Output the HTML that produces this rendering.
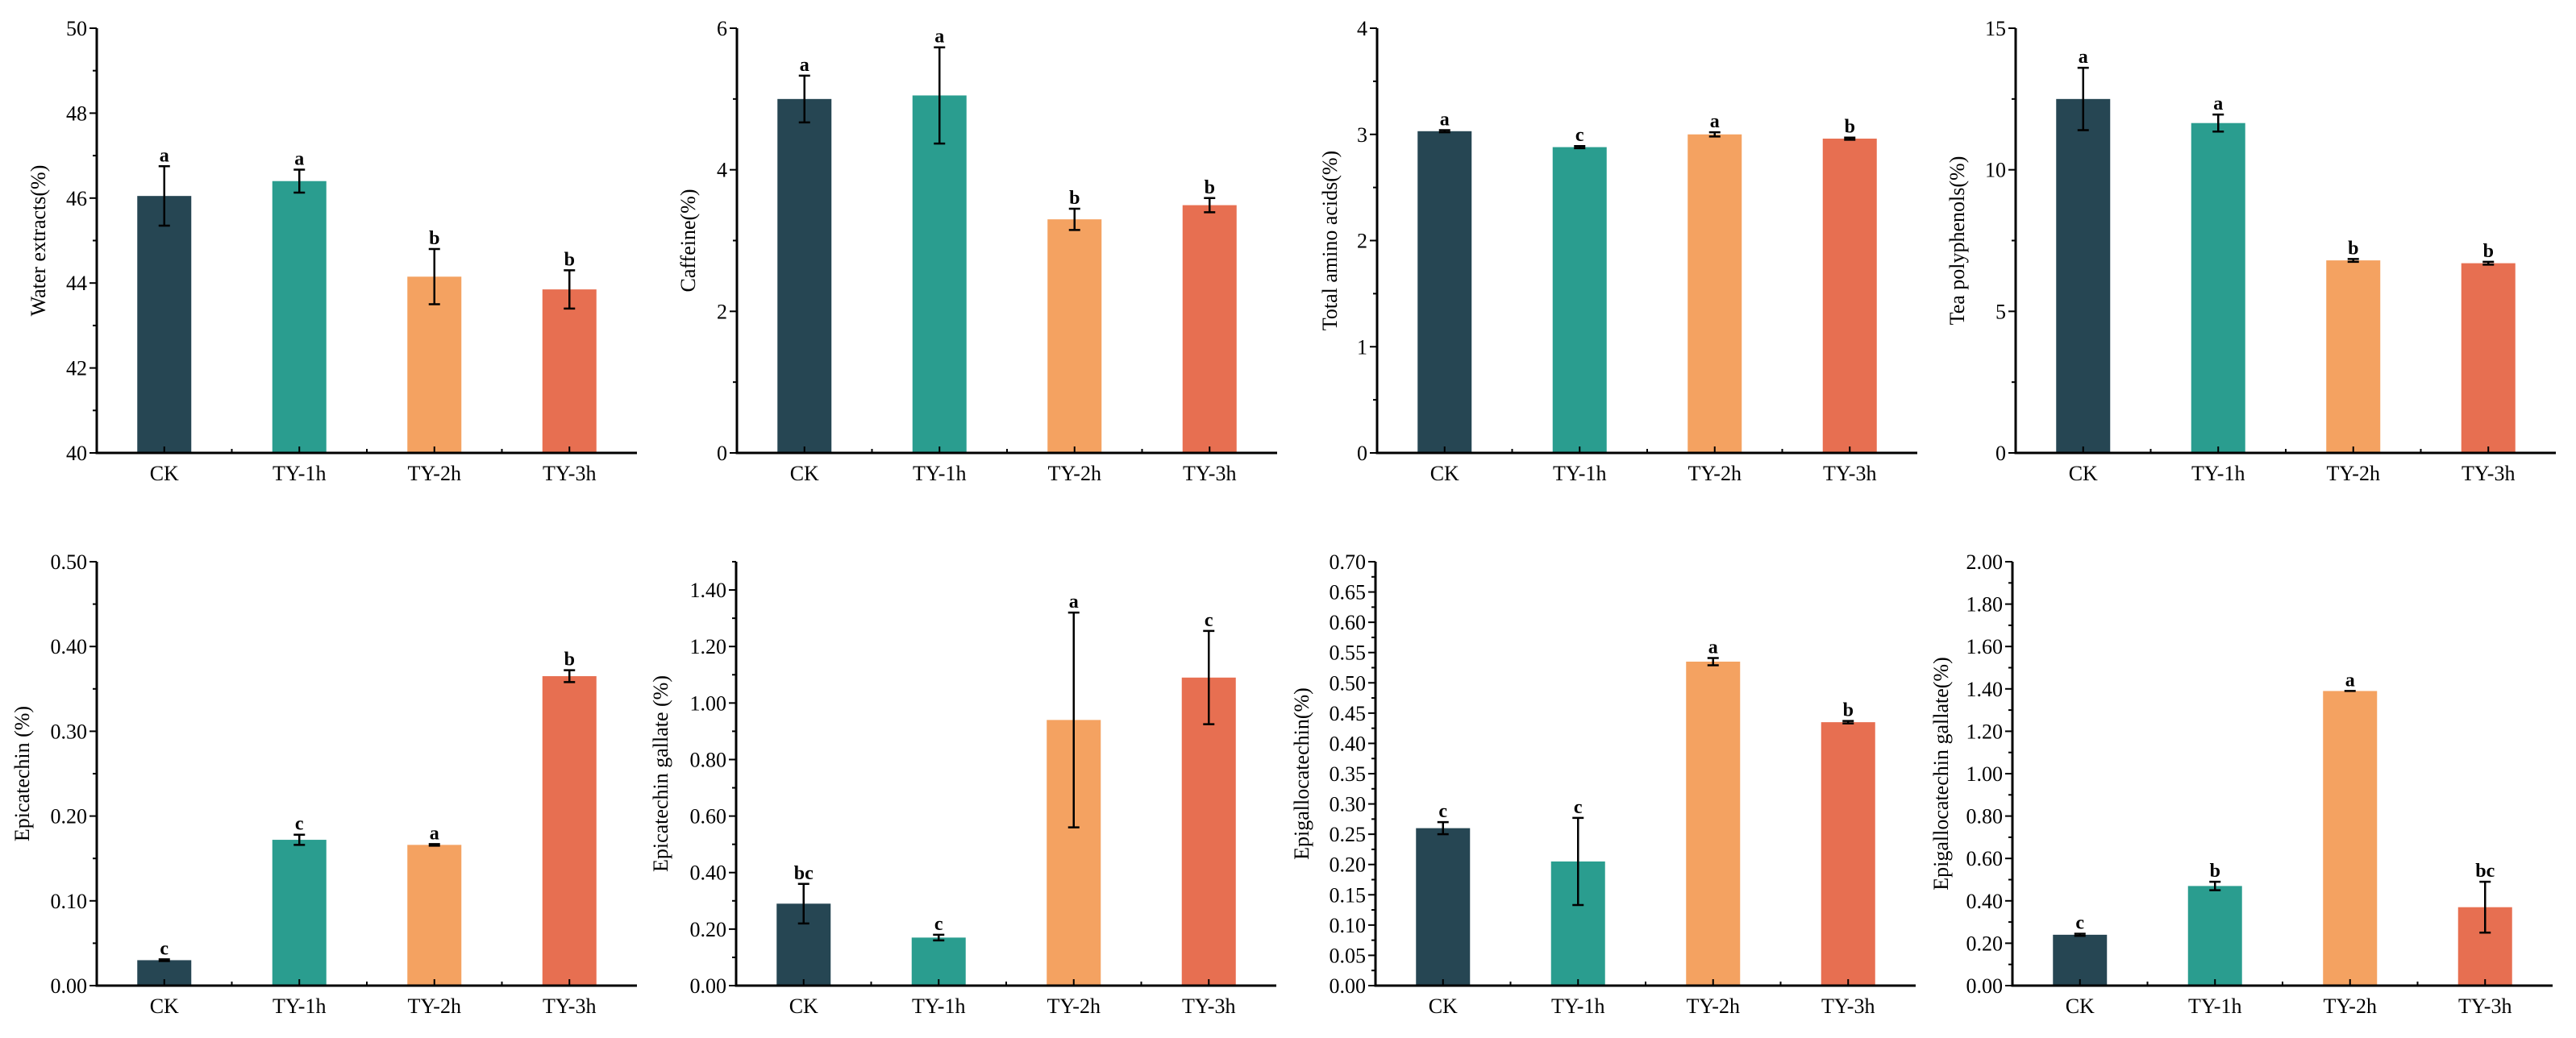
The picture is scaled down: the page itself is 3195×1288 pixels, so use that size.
<!DOCTYPE html>
<html><head><meta charset="utf-8"><style>
html,body{margin:0;padding:0;background:#fff;}
svg{display:block;font-family:"Liberation Serif",serif;}
</style></head><body>
<svg id="chart" width="3195" height="1288" viewBox="0 0 3195 1288"></svg>
<script>
const categories = ["CK","TY-1h","TY-2h","TY-3h"];
const colors = ["#264653","#2a9d8f","#f4a261","#e76f51"];
// panel data
const waterVals = [46.05,46.4,44.15,43.85];
const waterErr = [0.7,0.27,0.65,0.45];
const waterLetters = ["a","a","b","b"];
const cafVals = [5.0,5.05,3.3,3.5];
const cafErr = [0.33,0.68,0.15,0.1];
const cafLetters = ["a","a","b","b"];
const aminoVals = [3.03,2.88,3.0,2.96];
const aminoErr = [0.01,0.01,0.02,0.01];
const aminoLetters = ["a","c","a","b"];
const polyVals = [12.5,11.65,6.8,6.7];
const polyErr = [1.1,0.3,0.05,0.05];
const polyLetters = ["a","a","b","b"];
const ecVals = [0.03,0.172,0.166,0.365];
const ecErr = [0.001,0.006,0.001,0.007];
const ecLetters = ["c","c","a","b"];
const ecgVals = [0.29,0.17,0.94,1.09];
const ecgErr = [0.07,0.01,0.38,0.165];
const ecgLetters = ["bc","c","a","c"];
const egcVals = [0.26,0.205,0.535,0.435];
const egcErr = [0.01,0.072,0.006,0.002];
const egcLetters = ["c","c","a","b"];
const egcgVals = [0.24,0.47,1.39,0.37];
const egcgErr = [0.005,0.02,0.0,0.12];
const egcgLetters = ["c","b","a","bc"];
const titles = ["Water extracts(%)","Caffeine(%)","Total amino acids(%)","Tea polyphenols(%)","Epicatechin (%)","Epicatechin gallate (%)","Epigallocatechin(%)","Epigallocatechin gallate(%)"];
const yMins = [40,0,0,0,0,0,0,0];
const yMaxs = [50,6,4,15,0.5,1.5,0.7,2.0];
const majorSteps = [2,2,1,5,0.1,0.2,0.05,0.2];
const tickMaxs = [50,6,4,15,0.5,1.4,0.7,2.0];
const decimals = [0,0,0,0,2,2,2,2];

const panels = [
 {v:waterVals,e:waterErr,l:waterLetters,x:120,top:35,bot:562,tx:50},
 {v:cafVals,e:cafErr,l:cafLetters,x:914,top:35,bot:562,tx:856},
 {v:aminoVals,e:aminoErr,l:aminoLetters,x:1708,top:35,bot:562,tx:1652},
 {v:polyVals,e:polyErr,l:polyLetters,x:2500,top:35,bot:562,tx:2430},
 {v:ecVals,e:ecErr,l:ecLetters,x:120,top:697,bot:1223,tx:30},
 {v:ecgVals,e:ecgErr,l:ecgLetters,x:913,top:697,bot:1223,tx:822},
 {v:egcVals,e:egcErr,l:egcLetters,x:1706,top:697,bot:1223,tx:1617},
 {v:egcgVals,e:egcgErr,l:egcgLetters,x:2496,top:697,bot:1223,tx:2410}
];
const NS="http://www.w3.org/2000/svg";
const svg=document.getElementById('chart');
function mk(tag,attrs,parent){const el=document.createElementNS(NS,tag);for(const k in attrs)el.setAttribute(k,attrs[k]);(parent||svg).appendChild(el);return el;}
const W=670;
panels.forEach((p,pi)=>{
  const g=mk('g',{});
  
  
  const y0=yMins[pi],y1=yMaxs[pi];
  const ys=v=>p.bot-(v-y0)/(y1-y0)*(p.bot-p.top);
  const xs=i=>p.x+(i+0.5)*W/categories.length;
  // bars
  p.v.forEach((v,i)=>{
    const r=mk('rect',{x:xs(i)-33.5,y:ys(v),width:67,height:p.bot-ys(v),fill:colors[i]},g);
    
    
    const e=p.e[i];
    const eb=mk('path',{d:`M${xs(i)},${ys(v+e)}V${ys(v-e)}M${xs(i)-7},${ys(v+e)}H${xs(i)+7}M${xs(i)-7},${ys(v-e)}H${xs(i)+7}`,stroke:'#000','stroke-width':2.5,fill:'none'},g);
    
    
    const t=mk('text',{x:xs(i),y:ys(v+e)-6,'text-anchor':'middle','font-size':24,'font-weight':'bold'},g);
    t.textContent=p.l[i];
    
    
    const xl=mk('text',{x:xs(i),y:p.bot+34,'text-anchor':'middle','font-size':26},g);
    xl.textContent=categories[i];
    
    
    mk('line',{x1:xs(i),x2:xs(i),y1:p.bot,y2:p.bot-8,stroke:'#000','stroke-width':2},g);
    if(i>0) mk('line',{x1:p.x+i*W/4,x2:p.x+i*W/4,y1:p.bot,y2:p.bot-5,stroke:'#000','stroke-width':2},g);
  });
  // axes
  const ax=mk('path',{d:`M${p.x},${p.top}V${p.bot}H${p.x+W}`,stroke:'#000','stroke-width':3,fill:'none'},g);
  
  
  const st=majorSteps[pi];
  for(let k=0;;k++){
    const v=y0+k*st/2; if(v>y1+1e-9)break;
    const major=k%2===0;
    mk('line',{x1:p.x,x2:p.x-(major?9:5),y1:ys(v),y2:ys(v),stroke:'#000','stroke-width':2},g);
    if(major && v<=tickMaxs[pi]+1e-9){
      const t=mk('text',{x:p.x-12,y:ys(v)+9,'text-anchor':'end','font-size':26},g);
      t.textContent=v.toFixed(decimals[pi]);
      
      
    }
  }
  const cy=(p.top+p.bot)/2;
  const tt=mk('text',{x:p.tx,y:cy,'text-anchor':'middle','font-size':26,transform:`rotate(-90 ${p.tx} ${cy})`,'dominant-baseline':'middle'},g);
  tt.textContent=titles[pi];
  
  
});
</script>
</body></html>
